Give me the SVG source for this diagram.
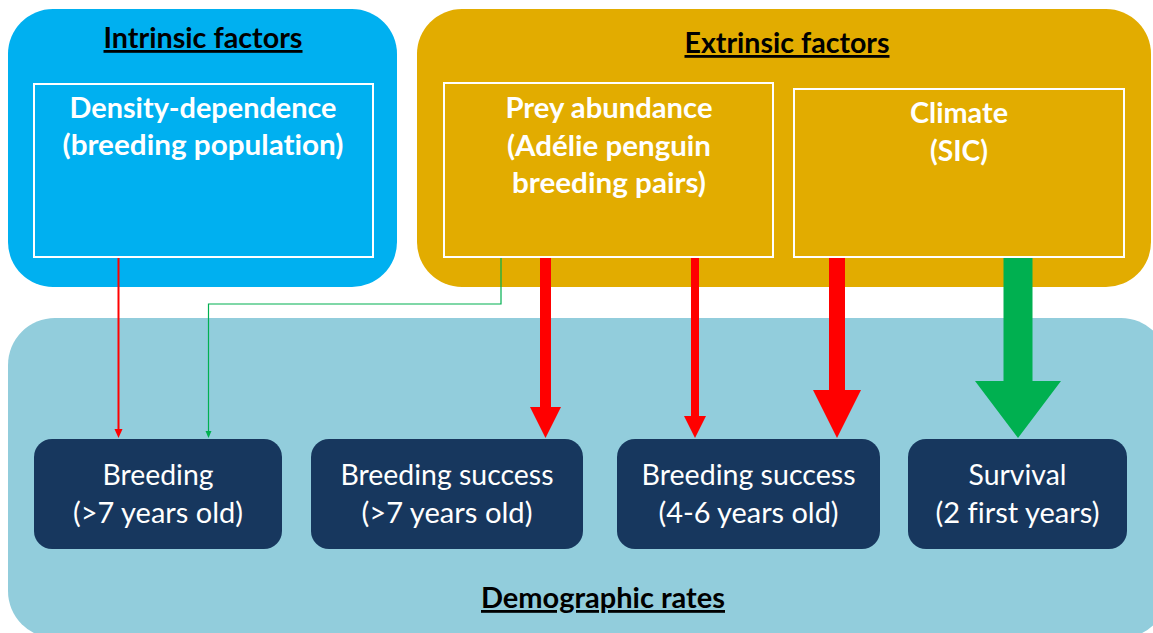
<svg xmlns="http://www.w3.org/2000/svg" width="1153" height="633" viewBox="0 0 1153 633">
<style>
text{font-variant-ligatures:none;font-feature-settings:"liga" 0,"clig" 0}
.title{font-family:Lato,"Liberation Sans",sans-serif;font-weight:bold;font-size:28px;fill:#000;text-anchor:middle;text-decoration:underline}
.wt{font-family:Lato,"Liberation Sans",sans-serif;font-weight:bold;font-size:28px;fill:#fff;text-anchor:middle}
.nt{font-family:Lato,"Liberation Sans",sans-serif;font-size:28px;fill:#fff;text-anchor:middle}
.inner{fill:none;stroke:#fff;stroke-width:2}
.node{fill:#17375E}
.red{fill:#FF0000}
.green{fill:#00B050}
</style>
<rect width="1153" height="633" fill="#fff"/>
<g id="demographic">
<rect x="8" y="318" width="1160" height="320" rx="47" fill="#92CDDC"/>
<text class="title" x="603" y="608" textLength="244" lengthAdjust="spacingAndGlyphs">Demographic rates</text>
</g>
<g id="intrinsic">
<rect x="8" y="9" width="389" height="278" rx="45" fill="#00B0F0"/>
<text class="title" x="203" y="48" textLength="199" lengthAdjust="spacingAndGlyphs">Intrinsic factors</text>
</g>
<g id="density">
<rect class="inner" x="34" y="84" width="339" height="173"/>
<text class="wt" x="203" y="118" textLength="267" lengthAdjust="spacingAndGlyphs">Density-dependence</text>
<text class="wt" x="203" y="155" textLength="281" lengthAdjust="spacingAndGlyphs">(breeding population)</text>
</g>
<g id="extrinsic">
<rect x="417" y="9" width="734" height="278" rx="45" fill="#E2AC00"/>
<text class="title" x="787" y="53" textLength="205" lengthAdjust="spacingAndGlyphs">Extrinsic factors</text>
</g>
<g id="prey">
<rect class="inner" x="444" y="83" width="329" height="174"/>
<text class="wt" x="609" y="118" textLength="207" lengthAdjust="spacingAndGlyphs">Prey abundance</text>
<text class="wt" x="609" y="156" textLength="204" lengthAdjust="spacingAndGlyphs">(Adélie penguin</text>
<text class="wt" x="609" y="193" textLength="194" lengthAdjust="spacingAndGlyphs">breeding pairs)</text>
</g>
<g id="climate">
<rect class="inner" x="794" y="89" width="330" height="168"/>
<text class="wt" x="959" y="123" textLength="98" lengthAdjust="spacingAndGlyphs">Climate</text>
<text class="wt" x="959" y="161" textLength="58" lengthAdjust="spacingAndGlyphs">(SIC)</text>
</g>
<g id="n-breeding">
<rect class="node" x="34" y="439" width="248" height="110" rx="18"/>
<text class="nt" x="158" y="485" textLength="111" lengthAdjust="spacingAndGlyphs">Breeding</text>
<text class="nt" x="158" y="523" textLength="170" lengthAdjust="spacingAndGlyphs">(&gt;7 years old)</text>
</g>
<g id="n-success-adult">
<rect class="node" x="311" y="439" width="272" height="110" rx="18"/>
<text class="nt" x="447" y="485" textLength="213" lengthAdjust="spacingAndGlyphs">Breeding success</text>
<text class="nt" x="447" y="523" textLength="171" lengthAdjust="spacingAndGlyphs">(&gt;7 years old)</text>
</g>
<g id="n-success-young">
<rect class="node" x="617" y="439" width="263" height="110" rx="18"/>
<text class="nt" x="748.5" y="485" textLength="214" lengthAdjust="spacingAndGlyphs">Breeding success</text>
<text class="nt" x="748.5" y="523" textLength="180" lengthAdjust="spacingAndGlyphs">(4-6 years old)</text>
</g>
<g id="n-survival">
<rect class="node" x="908" y="439" width="219" height="110" rx="18"/>
<text class="nt" x="1017.5" y="485" textLength="98" lengthAdjust="spacingAndGlyphs">Survival</text>
<text class="nt" x="1017.5" y="523" textLength="164" lengthAdjust="spacingAndGlyphs">(2 first years)</text>
</g>
<g id="connectors">
<line x1="118.5" y1="258" x2="118.5" y2="431" stroke="#FF0000" stroke-width="2"/>
<polygon class="red" points="114.5,429 122.5,429 118.5,438"/>
<polyline points="501,258 501,304 208.5,304 208.5,433" fill="none" stroke="#00B050" stroke-width="1.2"/>
<polygon class="green" points="205.5,431 211.5,431 208.5,438"/>
<polygon class="red" points="540,258 551,258 551,407 561,407 545.5,438 530,407 540,407"/>
<polygon class="red" points="691,258 699,258 699,416 706,416 695,438 684,416 691,416"/>
<polygon class="red" points="829,258 845,258 845,390 861,390 837,438 813,390 829,390"/>
<polygon class="green" points="1003.5,258 1032.5,258 1032.5,381 1061,381 1018,438 975,381 1003.5,381"/>
</g>
</svg>
